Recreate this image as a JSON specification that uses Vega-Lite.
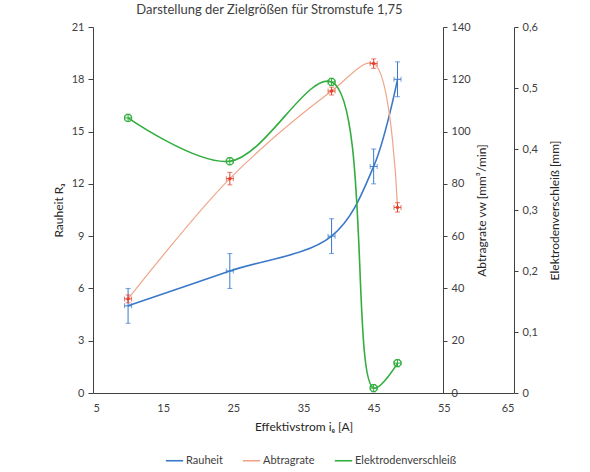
{
  "$schema": "https://vega.github.io/schema/vega-lite/v6.json",
  "autosize": "none",
  "width": 421,
  "height": 366,
  "padding": {"left": 93, "top": 27, "right": 76, "bottom": 79},
  "background": "white",
  "title": {
    "text": "Darstellung der Zielgrößen für Stromstufe 1,75",
    "fontSize": 13,
    "fontWeight": 400,
    "color": "#404040",
    "dx": -34,
    "offset": 4
  },
  "datasets": {
    "messung": [
      {"Reihe": "Rauheit", "i": 10, "ilo": 9.5, "ihi": 10.5, "v": 5.0, "lo": 4.0, "hi": 6.0},
      {"Reihe": "Rauheit", "i": 24.5, "ilo": 24, "ihi": 25, "v": 7.0, "lo": 6.0, "hi": 8.0},
      {"Reihe": "Rauheit", "i": 39, "ilo": 38.5, "ihi": 39.5, "v": 9.0, "lo": 8.0, "hi": 10.0},
      {"Reihe": "Rauheit", "i": 45, "ilo": 44.5, "ihi": 45.5, "v": 13.0, "lo": 12.0, "hi": 14.0},
      {"Reihe": "Rauheit", "i": 48.4, "ilo": 47.9, "ihi": 48.9, "v": 18.0, "lo": 17.0, "hi": 19.0},
      {"Reihe": "Abtragrate", "i": 10, "ilo": 9.5, "ihi": 10.5, "v": 36, "lo": 34.5, "hi": 37.5},
      {"Reihe": "Abtragrate", "i": 24.5, "ilo": 24, "ihi": 25, "v": 82, "lo": 79.6, "hi": 84.4},
      {"Reihe": "Abtragrate", "i": 39, "ilo": 38.5, "ihi": 39.5, "v": 115.5, "lo": 114, "hi": 117},
      {"Reihe": "Abtragrate", "i": 45, "ilo": 44.5, "ihi": 45.5, "v": 126, "lo": 124.2, "hi": 127.8},
      {"Reihe": "Abtragrate", "i": 48.4, "ilo": 47.9, "ihi": 48.9, "v": 71, "lo": 69.2, "hi": 72.8},
      {"Reihe": "Elektrodenverschleiß", "i": 10, "ilo": 9.5, "ihi": 10.5, "v": 0.451, "lo": 0.445, "hi": 0.457},
      {"Reihe": "Elektrodenverschleiß", "i": 24.5, "ilo": 24, "ihi": 25, "v": 0.38, "lo": 0.374, "hi": 0.386},
      {"Reihe": "Elektrodenverschleiß", "i": 39, "ilo": 38.5, "ihi": 39.5, "v": 0.51, "lo": 0.504, "hi": 0.516},
      {"Reihe": "Elektrodenverschleiß", "i": 45, "ilo": 44.5, "ihi": 45.5, "v": 0.008, "lo": 0.002, "hi": 0.014},
      {"Reihe": "Elektrodenverschleiß", "i": 48.4, "ilo": 47.9, "ihi": 48.9, "v": 0.049, "lo": 0.043, "hi": 0.055}
    ]
  },
  "data": {"name": "messung"},
  "encoding": {
    "x": {
      "field": "i",
      "type": "quantitative",
      "title": "Effektivstrom iₑ [A]",
      "scale": {"domain": [5, 65], "nice": false},
      "axis": {
        "values": [5, 15, 25, 35, 45, 55, 65],
        "tickSize": 0,
        "labelPadding": 9,
        "titlePadding": 8
      }
    }
  },
  "layer": [
    {
      "transform": [{"filter": "datum.Reihe == 'Rauheit'"}],
      "layer": [
        {
          "mark": {"type": "line", "interpolate": "catmull-rom", "strokeWidth": 1.6},
          "encoding": {
            "y": {
              "field": "v",
              "type": "quantitative",
              "title": "Rauheit Rₐ",
              "scale": {"domain": [0, 21], "nice": false},
              "axis": {
                "orient": "left",
                "values": [0, 3, 6, 9, 12, 15, 18, 21],
                "tickSize": 5,
                "labelPadding": 4,
                "titlePadding": 6
              }
            },
            "color": {
              "datum": "Rauheit",
              "type": "nominal",
              "scale": {
                "domain": ["Rauheit", "Abtragrate", "Elektrodenverschleiß"],
                "range": ["#3a78c9", "#f0a58a", "#33ad3f"]
              },
              "legend": {
                "orient": "none",
                "direction": "horizontal",
                "legendX": 72,
                "legendY": 424,
                "title": null,
                "symbolType": "stroke",
                "symbolSize": 300,
                "symbolStrokeWidth": 1.6,
                "labelFontSize": 11,
                "labelColor": "#404040",
                "labelOffset": 2,
                "columnPadding": 16
              }
            }
          }
        },
        {
          "mark": {"type": "errorbar", "ticks": true, "color": "#3a78c9"},
          "encoding": {
            "y": {"field": "lo", "type": "quantitative", "title": "Rauheit Rₐ"},
            "y2": {"field": "hi"}
          }
        },
        {
          "mark": {"type": "errorbar", "ticks": true, "color": "#3a78c9"},
          "encoding": {
            "x": {"field": "ilo", "type": "quantitative", "title": "Effektivstrom iₑ [A]"},
            "x2": {"field": "ihi"},
            "y": {"field": "v", "type": "quantitative", "title": "Rauheit Rₐ"}
          }
        }
      ]
    },
    {
      "transform": [{"filter": "datum.Reihe == 'Abtragrate'"}],
      "layer": [
        {
          "mark": {"type": "line", "interpolate": "catmull-rom", "strokeWidth": 1.2},
          "encoding": {
            "y": {
              "field": "v",
              "type": "quantitative",
              "title": "Abtragrate vw [mm³/min]",
              "scale": {"domain": [0, 140], "nice": false},
              "axis": {
                "orient": "right",
                "offset": -71,
                "values": [0, 20, 40, 60, 80, 100, 120, 140],
                "tickSize": 4,
                "labelPadding": 4,
                "titleAngle": 270,
                "titleBaseline": "top",
                "titlePadding": 6
              }
            },
            "color": {"datum": "Abtragrate", "type": "nominal"}
          }
        },
        {
          "mark": {"type": "errorbar", "ticks": true, "color": "#e3412b"},
          "encoding": {
            "y": {"field": "lo", "type": "quantitative", "title": "Abtragrate vw [mm³/min]"},
            "y2": {"field": "hi"}
          }
        },
        {
          "mark": {"type": "errorbar", "ticks": true, "color": "#e3412b"},
          "encoding": {
            "x": {"field": "ilo", "type": "quantitative", "title": "Effektivstrom iₑ [A]"},
            "x2": {"field": "ihi"},
            "y": {"field": "v", "type": "quantitative", "title": "Abtragrate vw [mm³/min]"}
          }
        },
        {
          "mark": {"type": "point", "filled": true, "size": 12, "color": "#e3412b", "opacity": 1},
          "encoding": {"y": {"field": "v", "type": "quantitative", "title": "Abtragrate vw [mm³/min]"}}
        }
      ]
    },
    {
      "transform": [{"filter": "datum.Reihe == 'Elektrodenverschleiß'"}],
      "layer": [
        {
          "mark": {"type": "line", "interpolate": "catmull-rom", "strokeWidth": 1.6},
          "encoding": {
            "y": {
              "field": "v",
              "type": "quantitative",
              "title": "Elektrodenverschleiß [mm]",
              "scale": {"domain": [0, 0.6], "nice": false},
              "axis": {
                "orient": "right",
                "offset": 0,
                "values": [0, 0.1, 0.2, 0.3, 0.4, 0.5, 0.6],
                "format": ".1~f",
                "labelExpr": "replace(datum.label, '.', ',')",
                "tickSize": 4,
                "labelPadding": 4,
                "titleAngle": 270,
                "titleBaseline": "top",
                "titlePadding": 12
              }
            },
            "color": {"datum": "Elektrodenverschleiß", "type": "nominal"}
          }
        },
        {
          "mark": {"type": "errorbar", "ticks": true, "color": "#33ad3f"},
          "encoding": {
            "y": {"field": "lo", "type": "quantitative", "title": "Elektrodenverschleiß [mm]"},
            "y2": {"field": "hi"}
          }
        },
        {
          "mark": {"type": "errorbar", "ticks": true, "color": "#33ad3f"},
          "encoding": {
            "x": {"field": "ilo", "type": "quantitative", "title": "Effektivstrom iₑ [A]"},
            "x2": {"field": "ihi"},
            "y": {"field": "v", "type": "quantitative", "title": "Elektrodenverschleiß [mm]"}
          }
        },
        {
          "mark": {"type": "point", "filled": false, "size": 50, "strokeWidth": 1.2, "color": "#33ad3f", "opacity": 1},
          "encoding": {"y": {"field": "v", "type": "quantitative", "title": "Elektrodenverschleiß [mm]"}}
        }
      ]
    }
  ],
  "resolve": {"scale": {"y": "independent"}, "axis": {"y": "independent"}},
  "config": {
    "font": "Lato",
    "view": {"stroke": null},
    "axis": {
      "grid": false,
      "labelFontSize": 11,
      "labelColor": "#404040",
      "titleFontSize": 12,
      "titleFontWeight": 400,
      "titleColor": "#262626",
      "domainColor": "#404040",
      "tickColor": "#404040"
    }
  }
}
